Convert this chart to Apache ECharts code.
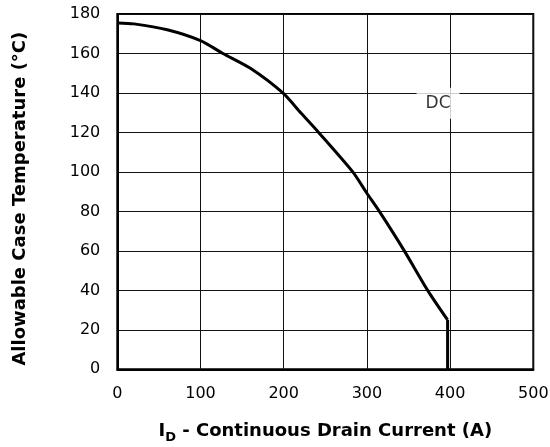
<!DOCTYPE html>
<html>
<head>
<meta charset="utf-8">
<script src="https://cdn.jsdelivr.net/npm/echarts@6/dist/echarts.min.js"></script>
<style>
html,body{margin:0;padding:0;background:#fff;}
#c{width:550px;height:447px;}
</style>
</head>
<body>
<div id="c"></div>
<script>
var currentA = [0, 20, 60, 100, 127, 160, 199, 221, 242, 283, 300, 315, 345, 373, 397];
var tempC = [175.5, 175, 172, 166.5, 160, 152.5, 140, 129.7, 120, 100, 89.2, 80, 60, 40, 25];
var dropA = [397, 397];
var dropC = [25, 0];
var xTicks = [0, 100, 200, 300, 400, 500];
var yTicks = [0, 20, 40, 60, 80, 100, 120, 140, 160, 180];
var dcLabelPos = [385.5, 134.8];
var dcLabelText = 'DC';

var curve = currentA.map(function (x, i) { return [x, tempC[i]]; });
var drop = dropA.map(function (x, i) { return [x, dropC[i]]; });
var FONT = 'DejaVu Sans';

var chart = echarts.init(document.getElementById('c'), null, {renderer: 'canvas'});
chart.setOption({
  animation: false,
  backgroundColor: '#fff',
  grid: {
    left: 117.3, right: 16.7, top: 14, bottom: 77.7,
    outerBoundsMode: 'none',
    containLabel: false,
    show: true, borderColor: '#000', borderWidth: 2, backgroundColor: 'transparent'
  },
  xAxis: {
    type: 'value',
    min: xTicks[0], max: xTicks[xTicks.length - 1], interval: 100,
    axisLine: {show: true, lineStyle: {color: '#000', width: 2}},
    axisTick: {show: false},
    splitLine: {show: true, lineStyle: {color: '#111', width: 1}},
    axisLabel: {color: '#000', fontFamily: FONT, fontSize: 16, margin: 17},
    name: '{a|I}{sub|D}{a| - Continuous Drain Current (A)}',
    nameLocation: 'middle',
    nameGap: 53,
    nameTextStyle: {
      rich: {
        a: {fontFamily: FONT, fontWeight: 'bold', fontSize: 18, lineHeight: 22, verticalAlign: 'top', color: '#000'},
        sub: {fontFamily: FONT, fontWeight: 'bold', fontSize: 13, lineHeight: 13, verticalAlign: 'bottom', color: '#000'}
      }
    }
  },
  yAxis: {
    type: 'value',
    min: yTicks[0], max: yTicks[yTicks.length - 1], interval: 20,
    axisLine: {show: true, lineStyle: {color: '#000', width: 2}},
    axisTick: {show: false},
    splitLine: {show: true, lineStyle: {color: '#111', width: 1}},
    axisLabel: {color: '#000', fontFamily: FONT, fontSize: 16, margin: 17},
    name: 'Allowable Case Temperature (°C)',
    nameLocation: 'middle',
    nameGap: 88,
    nameTextStyle: {fontFamily: FONT, fontWeight: 'bold', fontSize: 18, color: '#000', padding: [0, 14, 0, 0]}
  },
  series: [
    {
      type: 'line',
      data: curve,
      showSymbol: false,
      symbol: 'none',
      smooth: 0.25,
      lineStyle: {color: '#000', width: 3, join: 'round'},
      z: 3
    },
    {
      type: 'line',
      data: drop,
      showSymbol: false,
      symbol: 'none',
      lineStyle: {color: '#000', width: 3},
      z: 3
    },
    {
      type: 'scatter',
      data: [dcLabelPos],
      symbolSize: 0,
      silent: true,
      label: {
        show: true,
        position: 'inside',
        formatter: dcLabelText,
        fontFamily: FONT,
        fontSize: 17,
        color: '#000',
        backgroundColor: '#fff',
        padding: [7, 9, 7, 9]
      },
      z: 4
    }
  ]
});
</script>
</body>
</html>
